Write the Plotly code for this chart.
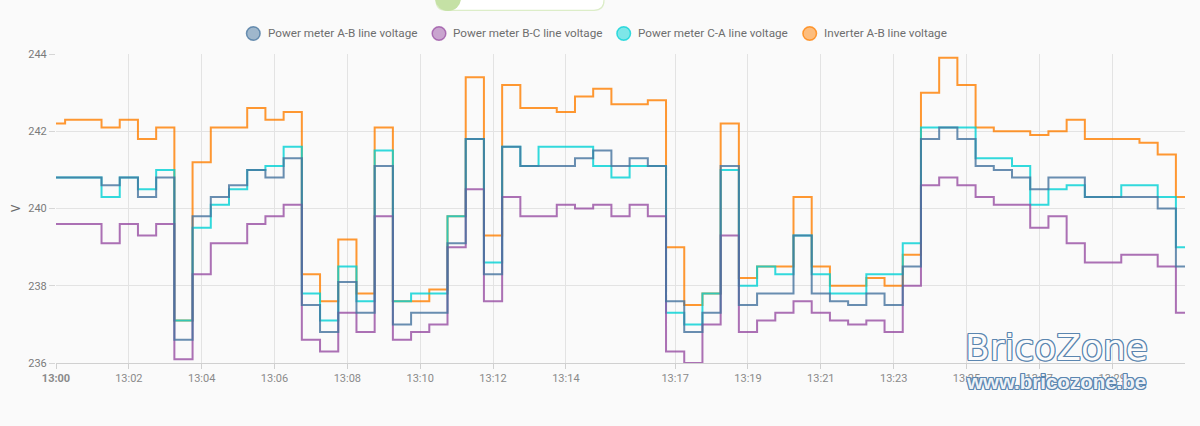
import pandas as pd
import plotly.graph_objects as go

# ---------------- data (30 s samples from 13:00:00 to 13:31:00) ----------------
series_names = [
    "Power meter A-B line voltage",
    "Power meter B-C line voltage",
    "Power meter C-A line voltage",
    "Inverter A-B line voltage",
]

ab_voltage = [240.8, 240.8, 240.8, 240.6, 240.8, 240.3, 240.8, 236.6, 239.8, 240.3,
              240.6, 241.0, 240.8, 241.3, 237.5, 236.8, 238.1, 237.3, 241.1, 237.0,
              237.3, 237.3, 239.1, 241.8, 238.3, 241.6, 241.1, 241.1, 241.1, 241.3,
              241.5, 241.1, 241.3, 241.1, 237.6, 236.8, 237.3, 241.1, 237.5, 237.8,
              237.8, 239.3, 237.8, 237.6, 237.5, 237.8, 237.5, 238.5, 241.8, 242.1,
              241.8, 241.1, 241.0, 240.8, 240.5, 240.8, 240.8, 240.3, 240.3, 240.3,
              240.3, 240.0, 238.5]

bc_voltage = [239.6, 239.6, 239.6, 239.1, 239.6, 239.3, 239.6, 236.1, 238.3, 239.1,
              239.1, 239.6, 239.8, 240.1, 236.6, 236.3, 237.3, 236.8, 239.8, 236.6,
              236.8, 237.0, 239.0, 240.5, 237.6, 240.3, 239.8, 239.8, 240.1, 240.0,
              240.1, 239.8, 240.1, 239.8, 236.3, 236.0, 237.0, 239.3, 236.8, 237.1,
              237.3, 237.6, 237.3, 237.1, 237.0, 237.1, 236.8, 238.0, 240.6, 240.8,
              240.6, 240.3, 240.1, 240.1, 239.5, 239.8, 239.1, 238.6, 238.6, 238.8,
              238.8, 238.5, 237.3]

ca_voltage = [240.8, 240.8, 240.8, 240.3, 240.8, 240.5, 241.0, 237.1, 239.5, 240.1,
              240.5, 241.0, 241.1, 241.6, 237.8, 237.1, 238.5, 237.6, 241.5, 237.6,
              237.8, 237.8, 239.8, 241.8, 238.6, 241.6, 241.1, 241.6, 241.6, 241.6,
              241.1, 240.8, 241.1, 241.1, 237.3, 237.0, 237.8, 241.0, 238.0, 238.5,
              238.3, 239.3, 238.3, 237.8, 237.8, 238.3, 238.3, 239.1, 242.1, 242.1,
              242.1, 241.3, 241.3, 241.1, 240.1, 240.5, 240.6, 240.3, 240.3, 240.6,
              240.6, 240.3, 239.0]

inverter_ab_voltage = [242.2, 242.3, 242.3, 242.1, 242.3, 241.8, 242.1, 237.1, 241.2, 242.1,
                       242.1, 242.6, 242.3, 242.5, 238.3, 237.6, 239.2, 237.8, 242.1, 237.6,
                       237.6, 237.9, 239.8, 243.4, 239.3, 243.2, 242.6, 242.6, 242.5, 242.9,
                       243.1, 242.7, 242.7, 242.8, 239.0, 237.5, 237.8, 242.2, 238.2, 238.5,
                       238.5, 240.3, 238.5, 238.0, 238.0, 238.2, 238.0, 238.8, 243.0, 243.9,
                       243.2, 242.1, 242.0, 242.0, 241.9, 242.0, 242.3, 241.8, 241.8, 241.8,
                       241.7, 241.4, 240.3]

times = pd.date_range("2024-01-01 13:00:00", periods=len(ab_voltage), freq="30s")

tick_times = ["13:00", "13:02", "13:04", "13:06", "13:08", "13:10", "13:12", "13:14",
              "13:17", "13:19", "13:21", "13:23", "13:25", "13:27", "13:29"]
y_ticks = [236, 238, 240, 242, 244]

colors = ["#44739e", "#984ea3", "#00d2d5", "#ff7f00"]
values = [ab_voltage, bc_voltage, ca_voltage, inverter_ab_voltage]

# ---------------- layout geometry (pixels) ----------------
W, H = 1200, 426
ML, MR, MT, MB = 56, 15, 54, 63
PW, PH = W - ML - MR, H - MT - MB


def px(x):
    return (x - ML) / PW


def py(y):
    return (H - MB - y) / PH


fig = go.Figure()

# first series drawn on top -> add in reverse order
for name, vals, col in reversed(list(zip(series_names, values, colors))):
    fig.add_trace(go.Scatter(
        x=times, y=vals, name=name, mode="lines",
        line=dict(color=col, width=2, shape="hvh"),
        opacity=0.8, showlegend=False,
    ))

tickvals = [pd.Timestamp("2024-01-01 " + t) for t in tick_times]
ticktext = ["<b>" + tick_times[0] + "</b>"] + tick_times[1:]

fig.update_xaxes(
    type="date",
    range=[times[0], times[-1]],
    tickvals=tickvals, ticktext=ticktext,
    showgrid=True, gridcolor="#e3e3e3", gridwidth=1,
    showline=True, linecolor="#d0d0d0", linewidth=1,
    ticks="outside", ticklen=5, tickcolor="#d0d0d0",
    tickfont=dict(family="Roboto", size=11, color="#8a8a8a"),
    zeroline=False,
)
fig.update_yaxes(
    range=[236, 244], tickvals=y_ticks,
    showgrid=True, gridcolor="#e3e3e3", gridwidth=1,
    showline=False, zeroline=False,
    ticks="outside", ticklen=6, tickcolor="#d6d6d6",
    tickfont=dict(family="Roboto", size=11, color="#7a7a7a"),
    title=dict(text="V", font=dict(family="Roboto", size=12, color="#6a6a6a"), standoff=5),
)

shapes = []
annotations = []

# manual legend: circles + labels
legend_circle_x = [253.3, 439.0, 623.7, 809.7]
legend_text_x = [265.5, 451.0, 635.5, 821.5]
legend_y = 33.5
r = 6.8
for cx, tx, name, col in zip(legend_circle_x, legend_text_x, series_names, colors):
    rgb = tuple(int(col[i:i + 2], 16) for i in (1, 3, 5))
    shapes.append(dict(
        type="circle", xref="paper", yref="paper",
        x0=px(cx - r), x1=px(cx + r), y0=py(legend_y + r), y1=py(legend_y - r),
        fillcolor="rgba(%d,%d,%d,0.5)" % rgb,
        line=dict(color="rgba(%d,%d,%d,0.75)" % rgb, width=1.5),
    ))
    annotations.append(dict(
        text=name, xref="paper", yref="paper", x=px(tx), y=py(legend_y),
        xanchor="left", yanchor="middle", showarrow=False,
        font=dict(family="Roboto", size=11.7, color="#6e6e6e"),
    ))

# partially visible chip at the top of the card
x0c, x1c, y0c, y1c, rc = 436, 604, -14, 10.3, 10
path = ("M %f %f L %f %f Q %f %f %f %f L %f %f Q %f %f %f %f L %f %f Z" % (
    px(x0c), py(y0c),
    px(x0c), py(y1c - rc), px(x0c), py(y1c), px(x0c + rc), py(y1c),
    px(x1c - rc), py(y1c), px(x1c), py(y1c), px(x1c), py(y1c - rc),
    px(x1c), py(y0c)))
shapes.append(dict(type="path", xref="paper", yref="paper", path=path,
                   fillcolor="#ffffff", line=dict(color="#dcedc8", width=1.2)))
shapes.append(dict(type="circle", xref="paper", yref="paper",
                   x0=px(435), x1=px(461), y0=py(11), y1=py(-15),
                   fillcolor="#c5e1a5", line=dict(width=0)))

# watermark
outline = "#5b86b0"
shadow = ", ".join("%spx %spx 0 %s" % (a, b, outline)
                   for a, b in [(1, 0), (-1, 0), (0, 1), (0, -1), (1, 1), (-1, -1), (1, -1), (-1, 1)])
annotations.append(dict(
    text="BricoZone", xref="paper", yref="paper", x=px(1056), y=py(347),
    xanchor="center", yanchor="middle", showarrow=False,
    font=dict(family="DejaVu Sans", size=36, color="#fbfbfb", shadow=shadow),
))
annotations.append(dict(
    text="www.bricozone.be", xref="paper", yref="paper", x=px(1056), y=py(381),
    xanchor="center", yanchor="middle", showarrow=False,
    font=dict(family="Liberation Sans", size=20.5, weight="bold", color="#eef2f7", shadow=shadow),
))

fig.update_layout(
    width=W, height=H,
    margin=dict(l=ML, r=MR, t=MT, b=MB, autoexpand=False),
    paper_bgcolor="#fafafa", plot_bgcolor="#fafafa",
    showlegend=False,
    shapes=shapes, annotations=annotations,
    font=dict(family="Roboto"),
)

fig.write_html("out.html")
